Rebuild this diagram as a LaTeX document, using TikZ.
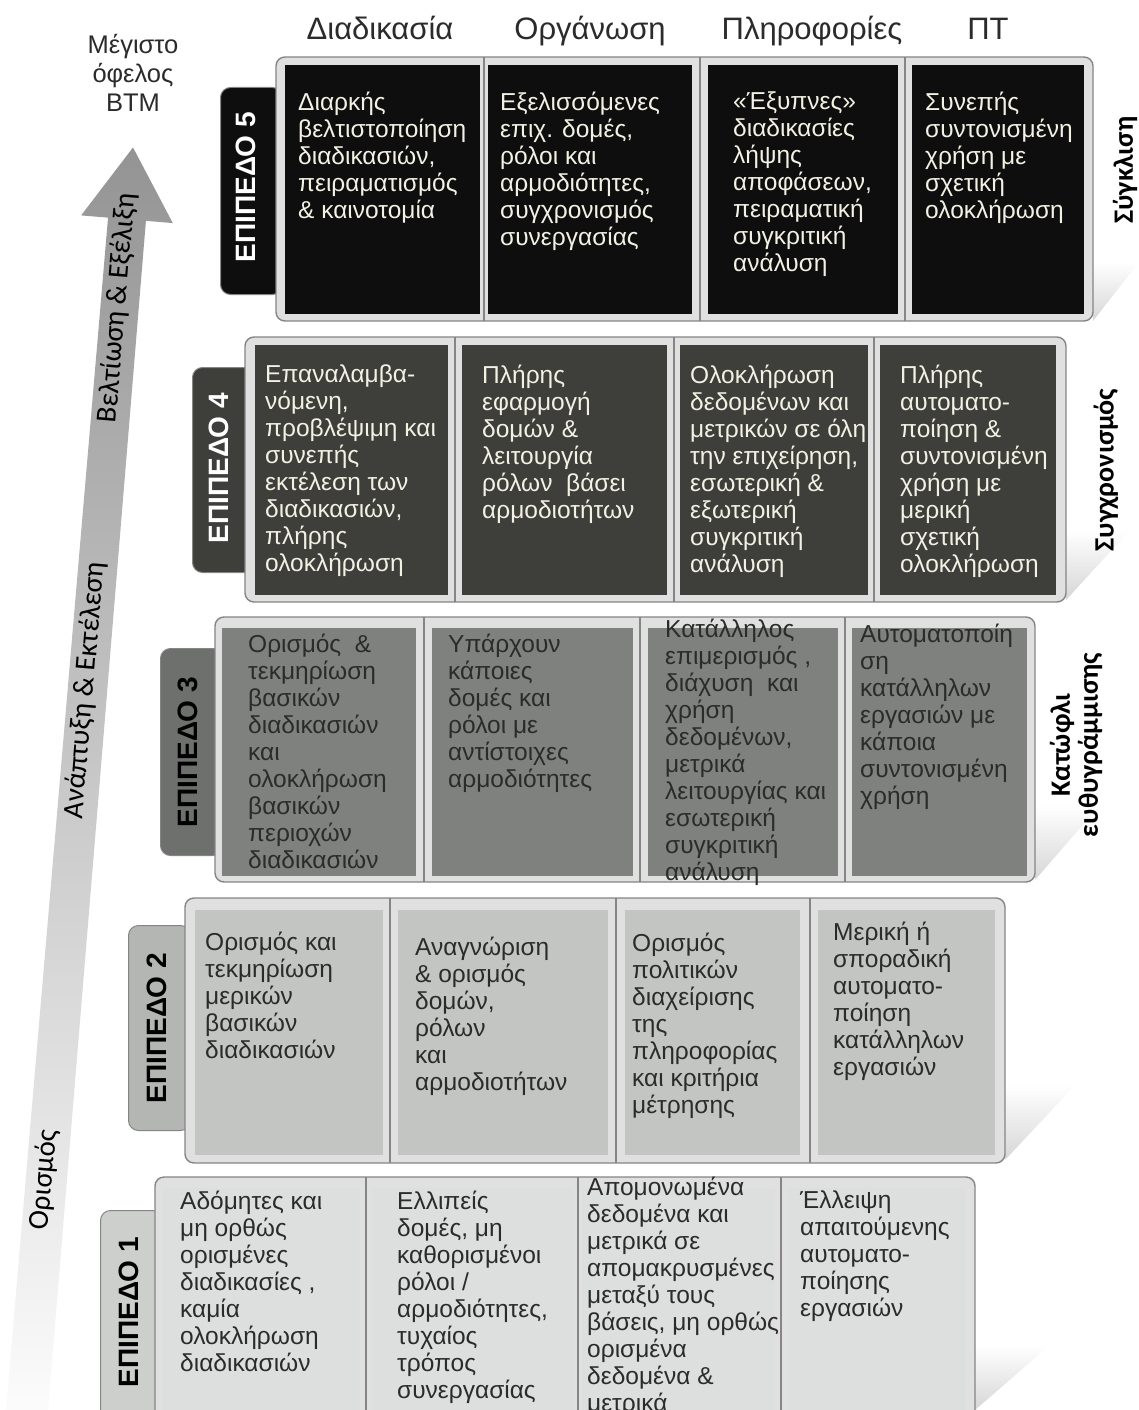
\documentclass[tikz,border=0pt]{standalone}
\usepackage{fontspec}
\setmainfont{Liberation Sans}
\newfontfamily\narrowfont{Carlito}

\definecolor{lvfive}{HTML}{0E0E0E}
\definecolor{lvfour}{HTML}{3E3F3B}
\definecolor{lvthree}{HTML}{7F817E}
\definecolor{lvtwo}{HTML}{C3C5C2}
\definecolor{lvone}{HTML}{DDDFDE}
\definecolor{tabthree}{HTML}{6E706D}
\definecolor{tabtwo}{HTML}{B4B6B3}
\definecolor{tabone}{HTML}{CDCFCD}
\definecolor{framegray}{HTML}{E0E0E0}
\definecolor{edgegray}{HTML}{858585}
\definecolor{lighttext}{HTML}{F3F1E4}
\definecolor{darktext}{HTML}{2B2B2B}

\tikzset{
  lvlbox/.style={draw=edgegray, line width=1.4pt, fill=framegray, rounded corners=9pt,
    anchor=north west, inner sep=0pt, outer sep=0pt},
  lvltab/.style={draw=edgegray, line width=1pt, rounded corners=10pt, anchor=north west,
    inner sep=0pt, minimum width=62},
  cellbox/.style={anchor=north west, inner sep=0pt, outer sep=0pt},
  celltext/.style={anchor=north west, inner sep=0pt, align=left,
    font=\fontsize{24.5}{27}\selectfont},
  tablabel/.style={rotate=90, font=\bfseries\fontsize{28}{28}\selectfont},
  colhead/.style={anchor=base, font=\fontsize{31}{34}\selectfont, text=darktext},
  sidelabel/.style={rotate=90, align=center, font=\narrowfont\bfseries\fontsize{28}{28}\selectfont},
  arrowlabel/.style={rotate=85.2, font=\narrowfont\fontsize{29}{29}\selectfont},
  divider/.style={draw=edgegray, line width=1.2pt},
  wedge/.style={top color=white, bottom color=black!16, draw=none}
}

\begin{document}
\begin{tikzpicture}[x=1pt, y=1pt]
  \useasboundingbox[fill=white] (0,0) rectangle (1139,-1410);

  % growth arrow
  \begin{scope}[shift={(27,-1410)}, rotate=85.2]
    \shade[top color=black!42, middle color=black!20, bottom color=white]
      (-40,21) -- (1195,19) -- (1195,46) -- (1267,0) -- (1195,-46) -- (1195,-19) -- (-40,-21) -- cycle;
    \node[arrowlabel] (stage1) at (231,2) {Ορισμός};
    \node[arrowlabel] (stage2) at (722,2) {Ανάπτυξη \& Εκτέλεση};
    \node[arrowlabel] (stage3) at (1106,2) {Βελτίωση \& Εξέλιξη};
  \end{scope}

  \node[align=center, font=\fontsize{25.5}{29}\selectfont, text=darktext] (gain) at (133,-73) {Μέγιστο\\όφελος\\BTM};

  % column headers
  \node[colhead] (hproc) at (380,-40) {Διαδικασία};
  \node[colhead] (horg) at (590,-40) {Οργάνωση};
  \node[colhead] (hinfo) at (812,-40) {Πληροφορίες};
  \node[colhead] (hit) at (988,-40) {ΠΤ};

  % shadows
  \shade[wedge] (1093,-321) -- (1139,-262) -- (1093,-262) -- cycle;
  \shade[wedge] (1066,-600) -- (1130,-530) -- (1066,-530) -- cycle;
  \shade[wedge] (1035,-880) -- (1100,-805) -- (1035,-805) -- cycle;
  \shade[wedge] (1005,-1160) -- (1075,-1085) -- (1005,-1085) -- cycle;
  \shade[wedge] (975,-1410) -- (1050,-1345) -- (975,-1345) -- cycle;

  % level 5
  \node[lvltab, fill=lvfive, minimum height=207] (tab5) at (220,-87) {};
  \node[lvlbox, minimum width=817, minimum height=264] (box5) at (276,-57) {};
  \node[cellbox, fill=lvfive, minimum width=195, minimum height=249] (c51) at (285,-65) {};
  \node[cellbox, fill=lvfive, minimum width=204, minimum height=249] (c52) at (488,-65) {};
  \node[cellbox, fill=lvfive, minimum width=190, minimum height=249] (c53) at (708,-65) {};
  \node[cellbox, fill=lvfive, minimum width=172, minimum height=249] (c54) at (912,-65) {};
  \draw[divider] (484,-57) -- (484,-321);
  \draw[divider] (700,-57) -- (700,-321);
  \draw[divider] (905,-57) -- (905,-321);
  \node[tablabel, text=white] (lab5) at (246,-187) {ΕΠΙΠΕΔΟ 5};
  \node[celltext, text=lighttext] (t51) at (298,-92) {Διαρκής\\βελτιστοποίηση\\διαδικασιών,\\πειραματισμός\\\& καινοτομία};
  \node[celltext, text=lighttext] (t52) at (500,-92) {Εξελισσόμενες\\επιχ. δομές,\\ρόλοι και\\αρμοδιότητες,\\συγχρονισμός\\συνεργασίας};
  \node[celltext, text=lighttext] (t53) at (733,-92) {«Έξυπνες»\\διαδικασίες\\λήψης\\αποφάσεων,\\πειραματική\\συγκριτική\\ανάλυση};
  \node[celltext, text=lighttext] (t54) at (925,-92) {Συνεπής\\συντονισμένη\\χρήση με\\σχετική\\ολοκλήρωση};
  \node[sidelabel] (conv) at (1125,-170) {Σύγκλιση};

  % level 4
  \node[lvltab, fill=lvfour, minimum height=205] (tab4) at (192,-367) {};
  \node[lvlbox, minimum width=821, minimum height=265] (box4) at (245,-337) {};
  \node[cellbox, fill=lvfour, minimum width=193, minimum height=250] (c41) at (255,-345) {};
  \node[cellbox, fill=lvfour, minimum width=205, minimum height=250] (c42) at (462,-345) {};
  \node[cellbox, fill=lvfour, minimum width=188, minimum height=250] (c43) at (680,-345) {};
  \node[cellbox, fill=lvfour, minimum width=176, minimum height=250] (c44) at (880,-345) {};
  \draw[divider] (455,-337) -- (455,-602);
  \draw[divider] (674,-337) -- (674,-602);
  \draw[divider] (874,-337) -- (874,-602);
  \node[tablabel, text=white] (lab4) at (219,-468) {ΕΠΙΠΕΔΟ 4};
  \node[celltext, text=lighttext] (t41) at (265,-365) {Επαναλαμβα-\\νόμενη,\\προβλέψιμη και\\συνεπής\\εκτέλεση των\\διαδικασιών,\\πλήρης\\ολοκλήρωση};
  \node[celltext, text=lighttext] (t42) at (482,-365) {Πλήρης\\εφαρμογή\\δομών \&\\λειτουργία\\ρόλων~ βάσει\\αρμοδιοτήτων};
  \node[celltext, text=lighttext] (t43) at (690,-365) {Ολοκλήρωση\\δεδομένων και\\μετρικών σε όλη\\την επιχείρηση,\\εσωτερική \&\\εξωτερική\\συγκριτική\\ανάλυση};
  \node[celltext, text=lighttext] (t44) at (900,-365) {Πλήρης\\αυτοματο-\\ποίηση \&\\συντονισμένη\\χρήση με\\μερική\\σχετική\\ολοκλήρωση};
  \node[sidelabel] (sync) at (1106,-470) {Συγχρονισμός};

  % level 3
  \node[lvltab, fill=tabthree, minimum height=207] (tab3) at (160,-648) {};
  \node[lvlbox, minimum width=820, minimum height=265] (box3) at (215,-617) {};
  \node[cellbox, fill=lvthree, minimum width=194, minimum height=248] (c31) at (222,-628) {};
  \node[cellbox, fill=lvthree, minimum width=201, minimum height=248] (c32) at (432,-628) {};
  \node[cellbox, fill=lvthree, minimum width=190, minimum height=248] (c33) at (648,-628) {};
  \node[cellbox, fill=lvthree, minimum width=175, minimum height=248] (c34) at (852,-628) {};
  \draw[divider] (424,-617) -- (424,-882);
  \draw[divider] (640,-617) -- (640,-882);
  \draw[divider] (845,-617) -- (845,-882);
  \node[tablabel, text=black] (lab3) at (188,-752) {ΕΠΙΠΕΔΟ 3};
  \node[celltext, text=darktext] (t31) at (248,-634) {Ορισμός~ \&\\τεκμηρίωση\\βασικών\\διαδικασιών\\και\\ολοκλήρωση\\βασικών\\περιοχών\\διαδικασιών};
  \node[celltext, text=darktext] (t32) at (448,-634) {Υπάρχουν\\κάποιες\\δομές και\\ρόλοι με\\αντίστοιχες\\αρμοδιότητες};
  \node[celltext, text=darktext] (t33) at (665,-619) {Κατάλληλος\\επιμερισμός ,\\διάχυση~ και\\χρήση\\δεδομένων,\\μετρικά\\λειτουργίας και\\εσωτερική\\συγκριτική\\ανάλυση};
  \node[celltext, text=darktext] (t34) at (860,-624) {Αυτοματοποίη\\ση\\κατάλληλων\\εργασιών με\\κάποια\\συντονισμένη\\χρήση};
  \node[sidelabel] (thresh) at (1076,-745) {Κατώφλι\\ευθυγράμμισης};

  % level 2
  \node[lvltab, fill=tabtwo, minimum height=205] (tab2) at (128,-925) {};
  \node[lvlbox, minimum width=820, minimum height=265] (box2) at (185,-898) {};
  \node[cellbox, fill=lvtwo, minimum width=188, minimum height=245] (c21) at (195,-910) {};
  \node[cellbox, fill=lvtwo, minimum width=210, minimum height=245] (c22) at (398,-910) {};
  \node[cellbox, fill=lvtwo, minimum width=175, minimum height=245] (c23) at (625,-910) {};
  \node[cellbox, fill=lvtwo, minimum width=177, minimum height=245] (c24) at (818,-910) {};
  \draw[divider] (390,-898) -- (390,-1163);
  \draw[divider] (616,-898) -- (616,-1163);
  \draw[divider] (810,-898) -- (810,-1163);
  \node[tablabel, text=black] (lab2) at (157,-1028) {ΕΠΙΠΕΔΟ 2};
  \node[celltext, text=darktext] (t21) at (205,-932) {Ορισμός και\\τεκμηρίωση\\μερικών\\βασικών\\διαδικασιών};
  \node[celltext, text=darktext] (t22) at (415,-937) {Αναγνώριση\\\& ορισμός\\δομών,\\ρόλων\\και\\αρμοδιοτήτων};
  \node[celltext, text=darktext] (t23) at (632,-933) {Ορισμός\\πολιτικών\\διαχείρισης\\της\\πληροφορίας\\και κριτήρια\\μέτρησης};
  \node[celltext, text=darktext] (t24) at (833,-922) {Μερική ή\\σποραδική\\αυτοματο-\\ποίηση\\κατάλληλων\\εργασιών};

  % level 1
  \node[lvltab, fill=tabone, minimum height=230] (tab1) at (100,-1210) {};
  \node[lvlbox, minimum width=820, minimum height=260] (box1) at (155,-1177) {};
  \node[cellbox, fill=lvone, minimum width=197, minimum height=240] (c11) at (163,-1188) {};
  \node[cellbox, fill=lvone, minimum width=202, minimum height=240] (c12) at (372,-1188) {};
  \node[cellbox, fill=lvone, minimum width=193, minimum height=240] (c13) at (582,-1188) {};
  \node[cellbox, fill=lvone, minimum width=177, minimum height=240] (c14) at (788,-1188) {};
  \draw[divider] (366,-1177) -- (366,-1437);
  \draw[divider] (578,-1177) -- (578,-1437);
  \draw[divider] (781,-1177) -- (781,-1437);
  \node[tablabel, text=black] (lab1) at (129,-1312) {ΕΠΙΠΕΔΟ 1};
  \node[celltext, text=darktext] (t11) at (180,-1191) {Αδόμητες και\\μη ορθώς\\ορισμένες\\διαδικασίες ,\\καμία\\ολοκλήρωση\\διαδικασιών};
  \node[celltext, text=darktext] (t12) at (397,-1191) {Ελλιπείς\\δομές, μη\\καθορισμένοι\\ρόλοι /\\αρμοδιότητες,\\τυχαίος\\τρόπος\\συνεργασίας};
  \node[celltext, text=darktext] (t13) at (587,-1177) {Απομονωμένα\\δεδομένα και\\μετρικά σε\\απομακρυσμένες\\μεταξύ τους\\βάσεις, μη ορθώς\\ορισμένα\\δεδομένα \&\\μετρικά};
  \node[celltext, text=darktext] (t14) at (800,-1191) {Έλλειψη\\απαιτούμενης\\αυτοματο-\\ποίησης\\εργασιών};
\end{tikzpicture}
\end{document}
